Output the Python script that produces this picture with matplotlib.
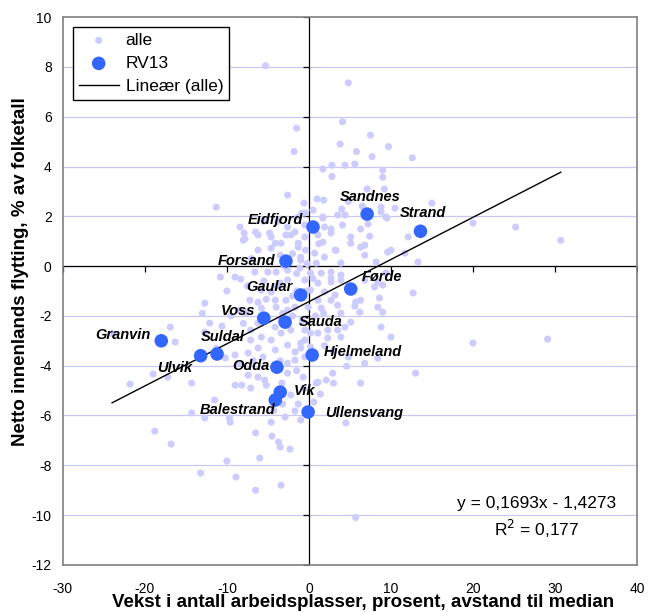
import numpy as np
import matplotlib
matplotlib.use("Agg")
import matplotlib.pyplot as plt

plt.rcParams['font.family'] = ['Liberation Sans', 'DejaVu Sans']
plt.rcParams['axes.unicode_minus'] = False

# alle kommuner (x = vekst arbeidsplasser, y = netto innenlands flytting)
alle_x = [
    -5.3, 4.8, -1.5, -1.8, 4.1, 3.8, 7.5, 5.8, 9.7, 7.7, 12.6, 1.7, 2.8, 4.4, 5.6, 2.8,
    9.0, 9.0, 7.1, 9.2, 1.0, 1.8, 4.0, 4.8, 6.5, 8.8, 8.8, 10.5, 15.0, -0.5, 0.5, 1.7,
    3.5, 4.4, 9.5, 1.9, 2.7, 4.1, 6.3, 7.2, 5.1, 12.1, 9.4, 20.0, 25.2, 30.7, -11.3, -0.85,
    -2.6, -0.6,
    -8.4, -7.9, -6.5, -4.8, -2.8, -1.7, -7.8, -8.0, -4.1, -2.6, -2.2, -1.3, -0.5, -1.3,
    -0.4, -6.2, -4.6, -3.4, -1.3, -4.6, -6.2, -3.5, -1.0, -1.1, -2.6, -5.0, -6.6, -4.0,
    -10.8, -9.0, -8.3,
    -0.5, 1.1, 2.7, 5.1, 6.8, 6.3, 7.4, 9.6, 11.7, 13.3, 8.2, 6.8, 3.2, 1.9, 0.7, -1.0,
    0.9, 3.9, 2.7, 3.9, 1.5, 0.2, -0.5, 1.1, 2.7, 3.9, 0.2, 1.9, 3.2, 1.1, 2.7, -0.1,
    1.5, 3.5, 3.9, 5.7, 6.2, 8.4, 9.0, 8.6, 12.7, 8.0, 9.0, 9.4, 6.8, 8.4, 10.0, 1.7,
    1.7, 3.3, 5.6, 6.3, 2.7,
    5.1, 4.4, 3.5, 2.3, 1.1, 2.3, 3.9, 8.8, 10.0, -0.5, 0.2, -1.0, 0.2, -0.5, 4.8, 6.8,
    20.0, 29.1, 4.6, 8.4, 13.0, 2.9, 2.1, 3.0, 6.3, 1.1, -0.7, 0.9, 1.4, 0.6, 4.5, -1.0,
    5.7,
    -12.7, -16.9, -16.3, -12.1, -10.6, -12.7, -7.1, -6.2, -7.7, -8.4, -7.2, -6.2, -5.2,
    -5.8, -4.6, -3.5, -2.6, -5.8, -4.0, -4.1, -2.8, -2.6, -1.7, -3.4, -4.1, -3.4, -2.2,
    -4.6, -5.8, -7.1, -6.2, -7.4, -4.1, -2.6, -1.7, -1.0, -9.0, -10.2, -8.6, -5.6, -1.7,
    -0.5,
    -19.0, -14.3, -11.5, -14.3, -12.7, -9.6, -9.7, -18.8, -16.8, -10.0, -13.2, -8.9, -6.5,
    -3.4, -6.0, -6.5, -4.5, -3.7, -3.5, -2.3, -4.6, -2.9, -1.7, -1.3, -3.2, -9.0, -8.2,
    -7.1, -7.4, -6.2, -5.4, -5.2, -2.6, -2.6, -0.6, -2.2, -21.8, -17.2, -24.0,
    -1.5, -0.3, -1.5, -2.0, -0.8, 0.8, 1.8, -3.0, -0.2, 0.5, -2.0, 1.2, 0.4, -3.8, -5.5,
    -7.0, -5.5, -4.0, -2.0, -3.2, 1.9, 3.0, -3.5, -6.8, -8.0, -9.5, -10.0, -7.5, -11.3,
    -13.0, -3.3, -1.5, -4.3,
]
alle_y = [
    8.05, 7.36, 5.54, 4.6, 5.8, 4.9, 5.26, 4.6, 4.8, 4.4, 4.35, 3.9, 4.05, 4.05, 4.1, 3.6,
    3.86, 3.57, 3.1, 3.1, 2.7, 2.65, 2.29, 2.6, 2.4, 2.37, 2.17, 2.33, 2.53, 2.13, 2.25, 1.93,
    2.05, 2.05, 1.93, 1.57, 1.49, 1.65, 1.49, 1.69, 1.17, 1.17, 1.97, 1.73, 1.57, 1.04, 2.37, 2.13,
    2.85, 2.53,
    1.57, 1.33, 1.37, 1.33, 1.25, 1.37, 1.1, 1.04, 0.92, 1.57, 1.25, 1.97, 1.65, 0.92,
    0.64, 1.25, 1.17, 0.92, 0.76, 0.72, 0.64, 0.44, 0.36, -0.08, -0.16, -0.24, -0.24, -0.24,
    -0.44, -0.44, -0.52,
    1.17, 1.25, 1.33, 0.92, 0.84, 0.76, 1.2, 0.56, 0.52, 0.16, 0.16, 0.44, 0.64, 0.36, 0.52, 0.24,
    0.12, 0.12, -0.24, -0.36, -0.28, -0.28, -0.56, -0.68, -0.64, -0.56, -0.96, -1.04, -1.16, -1.37, -1.37, -1.65,
    -1.69, -1.57, -1.89, -1.45, -1.85, -1.65, -1.85, -1.28, -1.08, -0.84, -0.76, -0.28, -0.56, -0.64, 0.64, 1.97,
    0.96, 0.64, -1.61, -1.37, -0.48,
    -2.25, -2.45, -2.57, -2.57, -2.69, -2.89, -2.85, -2.45, -2.85, -2.97, -3.25, -3.29, -2.69, -2.57, -3.65, -3.9,
    -3.09, -2.93, -4.02, -3.7, -4.3, -4.3, -4.58, -4.7, -4.7, -4.66, -4.46, -4.7, -5.14, -5.46, -6.3, -6.18,
    -10.1,
    -1.49, -2.45, -3.05, -2.29, -2.41, -2.65, -2.57, -2.29, -1.89, -1.77, -1.37, -1.45, -1.33,
    -0.96, -1.04, -0.68, -0.56, -1.69, -1.65, -1.37, -1.37, -1.77, -1.65, -2.17, -2.45, -2.69, -2.57,
    -2.97, -2.85, -2.97, -3.29, -3.49, -3.37, -3.17, -3.45, -3.09, -3.57, -3.69, -3.9, -3.65, -3.78,
    -3.65,
    -4.34, -4.7, -5.38, -5.9, -6.1, -6.27, -6.1, -6.63, -7.15, -7.83, -8.31, -8.47, -9.0,
    -8.8, -7.71, -6.7, -6.83, -7.07, -7.27, -7.35, -6.27, -6.06, -5.82, -5.54, -5.54, -4.78, -4.78,
    -4.9, -4.38, -4.46, -4.58, -4.78, -4.3, -3.9, -4.9, -5.18, -4.74, -4.46, -2.7,
    -0.3, -1.0, -1.0, -2.0, -2.2, -2.0, -1.9, 0.0, 0.1, -0.5, 0.5, 0.9, 1.5, 1.8, 1.8,
    0.3, -0.6, -0.8, -1.2, -1.9, -3.2, -3.4, -3.8, -3.8, -2.3, -2.0, -1.0, -0.8, -3.3,
    -1.9, -4.7, -4.2, -5.8,
]

# RV13-kommuner
rv13_names = ["Sandnes", "Strand", "Eidfjord", "Forsand", "Førde", "Gaular", "Voss", "Sauda",
              "Granvin", "Suldal", "Ulvik", "Odda", "Hjelmeland", "Vik", "Balestrand", "Ullensvang"]
rv13_x = [7.1, 13.6, 0.5, -2.8, 5.1, -1.0, -5.5, -2.9, -18.0, -11.2, -13.2, -3.9, 0.4, -3.5, -4.1, -0.1]
rv13_y = [2.09, 1.4, 1.57, 0.2, -0.92, -1.16, -2.09, -2.25, -3.0, -3.53, -3.6, -4.06, -3.57, -5.06, -5.38, -5.86]

# trendline from the chart text
slope = 0.1693
intercept = -1.4273

# label placement (offset in points, alignment)
label_pos = {
    "Sandnes": (2, 12, 'center'), "Strand": (2, 13, 'center'), "Eidfjord": (-7, 5, 'right'),
    "Forsand": (-8, 0, 'right'), "Førde": (8, 9, 'left'), "Gaular": (-6, 6, 'right'),
    "Voss": (-6, 5, 'right'), "Sauda": (10, 0, 'left'), "Granvin": (-8, 4, 'right'),
    "Suldal": (4, 12, 'center'), "Ulvik": (-6, -9, 'right'), "Odda": (-5, 1, 'right'),
    "Hjelmeland": (8, 2, 'left'), "Vik": (10, 1, 'left'), "Balestrand": (0, -7, 'right'),
    "Ullensvang": (12, -1, 'left'),
}

fig = plt.figure(figsize=(6.48, 6.12), dpi=100)
ax = fig.add_axes([0.097, 0.077, 0.886, 0.895])

ax.set_xlim(-30, 40)
ax.set_ylim(-12, 10)
ax.set_xticks(np.arange(-30, 41, 10))
ax.set_yticks(np.arange(-12, 11, 2))
ax.tick_params(length=0, labelsize=10, pad=12)
ax.tick_params(axis='y', pad=8)
for s in ax.spines.values():
    s.set_color('#808080')
    s.set_linewidth(1.2)

for yv in np.arange(-10, 10, 2):
    ax.axhline(yv, color='#c8c8f4', lw=0.9, zorder=0)

ax.axhline(0, color='black', lw=0.9, zorder=1)
ax.axvline(0, color='black', lw=0.9, zorder=1)
ax.plot(np.arange(-30, 41, 10), np.zeros(8), ls='none', marker=3, ms=4, color='black', mew=0.9, zorder=1)
ax.plot(np.zeros(12), np.arange(-12, 11, 2), ls='none', marker=0, ms=4, color='black', mew=0.9, zorder=1)

ax.scatter(alle_x, alle_y, s=26, color='#ccccff', edgecolors='none', zorder=2, label='alle')
ax.scatter(rv13_x, rv13_y, s=95, color='#3366ff', edgecolors='none', zorder=4, label='RV13')

lx = np.array([min(alle_x), max(alle_x)])
ax.plot(lx, slope * lx + intercept, color='black', lw=1.0, zorder=3, label='Lineær (alle)')

for name, xv, yv in zip(rv13_names, rv13_x, rv13_y):
    dx, dy, ha = label_pos[name]
    ax.annotate(name, (xv, yv), xytext=(dx, dy), textcoords='offset points',
                ha=ha, va='center', fontsize=10.5, fontweight='bold', fontstyle='italic', zorder=5)

ax.text(27.8, -9.55, "y = 0,1693x - 1,4273", ha='center', va='center', fontsize=12.5)
ax.text(27.8, -10.55, "R$^2$ = 0,177", ha='center', va='center', fontsize=12.5)

fig.text(0.56, 0.015, "Vekst i antall arbeidsplasser, prosent, avstand til median",
         ha='center', va='center', fontsize=13.5, fontweight='bold')
fig.text(0.031, 0.556, "Netto innenlands flytting, % av folketall", rotation=90,
         ha='center', va='center', fontsize=13.5, fontweight='bold')

leg = ax.legend(loc='upper left', bbox_to_anchor=(0.008, 0.992), fancybox=False,
                edgecolor='black', framealpha=1, fontsize=12.5, handlelength=2.3,
                borderpad=0.35, labelspacing=0.45, handletextpad=0.4, borderaxespad=0.3)
leg.get_frame().set_linewidth(1.0)

fig.savefig("out.png", dpi=100)
